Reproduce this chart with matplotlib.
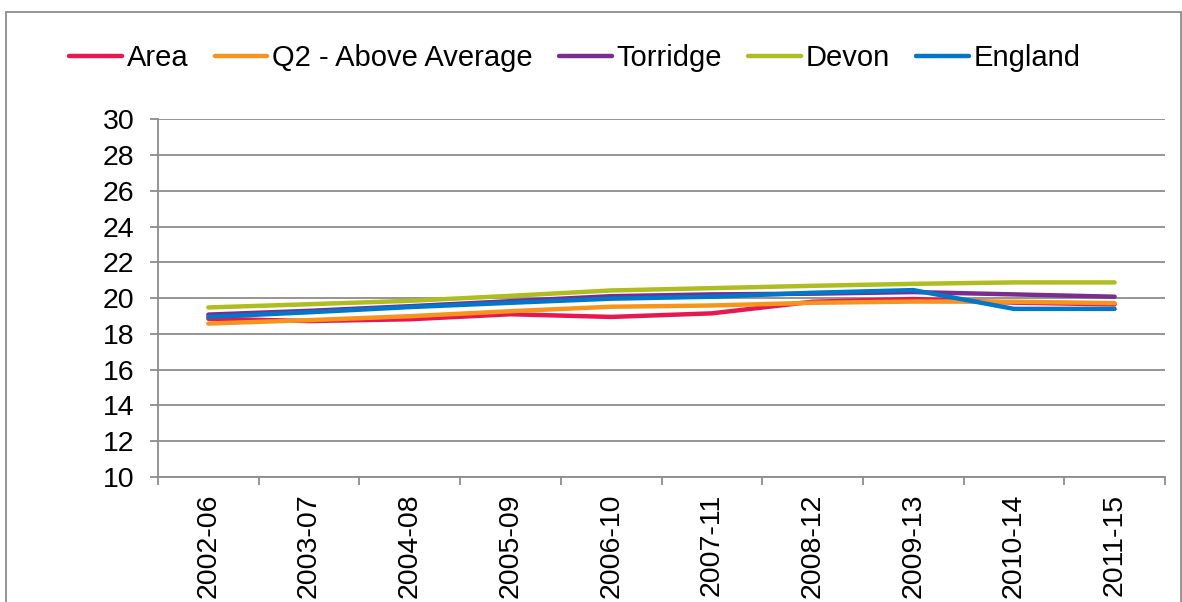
import matplotlib.pyplot as plt
from matplotlib.patches import Rectangle

periods = ['2002-06', '2003-07', '2004-08', '2005-09', '2006-10',
           '2007-11', '2008-12', '2009-13', '2010-14', '2011-15']
area = [18.85, 18.72, 18.82, 19.10, 18.95, 19.15, 19.80, 19.95, 19.75, 19.65]
q2_above = [18.58, 18.77, 18.99, 19.27, 19.52, 19.59, 19.74, 19.81, 19.80, 19.72]
torridge = [19.08, 19.29, 19.55, 19.83, 20.11, 20.21, 20.25, 20.34, 20.21, 20.08]
devon = [19.48, 19.66, 19.85, 20.13, 20.43, 20.56, 20.69, 20.80, 20.88, 20.88]
england = [18.95, 19.21, 19.50, 19.74, 19.97, 20.08, 20.30, 20.45, 19.40, 19.40]

series = [('Area', area, '#E8174F'),
          ('Q2 - Above Average', q2_above, '#F7941D'),
          ('Torridge', torridge, '#7B2C8F'),
          ('Devon', devon, '#AEBD1F'),
          ('England', england, '#0077C8')]

plt.rcParams['font.family'] = ['Liberation Sans', 'DejaVu Sans']
fs = 20.5

fig = plt.figure(figsize=(11.82, 6.02), dpi=100)
ax = fig.add_axes([158 / 1182, 1 - 477 / 602, (1165 - 158) / 1182, (477 - 119.3) / 602])

x = list(range(len(periods)))
for name, vals, col in series:
    ax.plot(x, vals, color=col, lw=3.2, label=name, solid_capstyle='round')

ax.set_ylim(10, 30)
ax.set_yticks(range(10, 31, 2))
ax.set_xlim(-0.5, len(periods) - 0.5)
ax.set_xticks(x)
ax.set_xticklabels(periods, rotation=90)
ax.set_xticks([i - 0.5 for i in range(len(periods) + 1)], minor=True)

grey = '#8C8C8C'
ax.grid(axis='y', color=grey, lw=1.3)
ax.set_axisbelow(True)
for s in ['top', 'right']:
    ax.spines[s].set_visible(False)
for s in ['left', 'bottom']:
    ax.spines[s].set_color(grey)
    ax.spines[s].set_linewidth(1.3)

ax.tick_params(axis='y', length=6, width=1.3, color=grey, pad=11, labelsize=fs)
ax.tick_params(axis='x', which='major', length=0, pad=12, labelsize=fs)
ax.tick_params(axis='x', which='minor', length=6, width=1.3, color=grey)

fig.legend(loc='center', bbox_to_anchor=(575 / 1182, 1 - 58 / 602), ncol=5,
           frameon=False, fontsize=21, handlelength=1.8, handletextpad=0.17,
           columnspacing=0.9)

fig.patches.append(Rectangle((6 / 1182, -0.05), 1175 / 1182, 1.05 - 12 / 602,
                             transform=fig.transFigure, fill=False,
                             edgecolor=grey, lw=1.3))

fig.savefig('out.png', dpi=100)
